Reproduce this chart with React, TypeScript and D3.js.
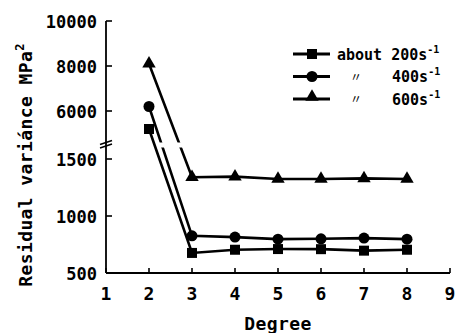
import React from "react";
import * as d3 from "d3";

const WIDTH = 455;
const HEIGHT = 333;

// data
const DEGREES = [2, 3, 4, 5, 6, 7, 8];
const RATE_200 = [5200, 676, 704, 710, 709, 696, 704];
const RATE_400 = [6200, 826, 815, 797, 800, 806, 797];
const RATE_600 = [8100, 1340, 1345, 1325, 1325, 1330, 1325];

const X_TICKS = [1, 2, 3, 4, 5, 6, 7, 8, 9];
const Y_TICKS_LOW = [500, 1000, 1500];
const Y_TICKS_HIGH = [6000, 8000, 10000];

const SERIES = [
  { name: "about 200s", ditto: false, symbol: d3.symbolSquare, size: 100, values: RATE_200 },
  { name: "400s", ditto: true, symbol: d3.symbolCircle, size: 95, values: RATE_400 },
  { name: "600s", ditto: true, symbol: d3.symbolTriangle, size: 78, values: RATE_600 },
];

const MONO = "'DejaVu Sans Mono', monospace";

const x = d3.scaleLinear().domain([1, 9]).range([106, 450]);
const yLow = d3.scaleLinear().domain([500, 1500]).range([273, 159]);
const yHigh = d3.scaleLinear().domain([6000, 10000]).range([111, 21]);
const y = (v: number) => (v > 3000 ? yHigh(v) : yLow(v));

const AXIS_X = x(1);
const AXIS_Y = yLow(500);
const BREAK_Y = 145;

export default function App() {
  const line = d3
    .line<[number, number]>()
    .x((d) => x(d[0]))
    .y((d) => y(d[1]));

  return (
    <div style={{ position: "absolute", left: 0, top: 0, width: WIDTH, height: HEIGHT, background: "#fff" }}>
      <svg width={WIDTH} height={HEIGHT} viewBox={`0 0 ${WIDTH} ${HEIGHT}`}>
        <rect width={WIDTH} height={HEIGHT} fill="#fff" />

        {/* data lines */}
        {SERIES.map((s) => (
          <path
            key={s.name + "-line"}
            d={line(DEGREES.map((d, i) => [d, s.values[i]]) as [number, number][]) || ""}
            fill="none"
            stroke="#000"
            strokeWidth={2.6}
          />
        ))}

        {/* gap where lines cross the axis break */}
        <rect x={x(2) + 8} y={BREAK_Y - 2.5} width={x(3) - x(2) - 10} height={5} fill="#fff" />

        {/* markers */}
        {SERIES.map((s) =>
          DEGREES.map((d, i) => (
            <path
              key={s.name + d}
              d={d3.symbol().type(s.symbol).size(s.size)() || ""}
              transform={`translate(${x(d)},${y(s.values[i])})`}
              fill="#000"
            />
          ))
        )}

        {/* axes */}
        <line x1={AXIS_X} x2={AXIS_X} y1={yHigh(10000)} y2={AXIS_Y} stroke="#000" strokeWidth={1.8} />
        <line x1={AXIS_X} x2={x(9)} y1={AXIS_Y} y2={AXIS_Y} stroke="#000" strokeWidth={1.8} />

        {/* axis break marks */}
        <line x1={AXIS_X - 6} x2={AXIS_X + 6} y1={BREAK_Y - 0.5} y2={BREAK_Y - 4.5} stroke="#000" strokeWidth={1.6} />
        <line x1={AXIS_X - 6} x2={AXIS_X + 6} y1={BREAK_Y + 3} y2={BREAK_Y - 1} stroke="#000" strokeWidth={1.6} />

        {[...Y_TICKS_HIGH.map((t) => [t, yHigh(t)]), ...Y_TICKS_LOW.map((t) => [t, yLow(t)])].map(([t, py]) => (
          <g key={"y" + t}>
            <line x1={AXIS_X} x2={AXIS_X + 6} y1={py} y2={py} stroke="#000" strokeWidth={1.6} />
            <text
              x={AXIS_X - 9}
              y={py}
              dy="0.4em"
              textAnchor="end"
              fontFamily={MONO}
              fontWeight="bold"
              fontSize={17}
            >
              {t}
            </text>
          </g>
        ))}

        {X_TICKS.map((t) => (
          <g key={"x" + t}>
            <line x1={x(t)} x2={x(t)} y1={AXIS_Y} y2={AXIS_Y - 5} stroke="#000" strokeWidth={1.6} />
            <text x={x(t)} y={299.5} textAnchor="middle" fontFamily={MONO} fontWeight="bold" fontSize={18}>
              {t}
            </text>
          </g>
        ))}

        {/* axis titles */}
        <text
          x={(x(1) + x(9)) / 2}
          y={330}
          textAnchor="middle"
          fontFamily={MONO}
          fontWeight="bold"
          fontSize={18}
          letterSpacing={0.4}
        >
          Degree
        </text>
        <text
          transform={`translate(32, 165) rotate(-90)`}
          textAnchor="middle"
          fontFamily={MONO}
          fontWeight="bold"
          fontSize={18}
          letterSpacing={0.4}
        >
          Residual variánce MPa
          <tspan dy={-8} fontSize={12}>
            2
          </tspan>
        </text>

        {/* legend */}
        {SERIES.map((s, i) => {
          const ly = 54 + i * 22.5;
          return (
            <g key={s.name + "-legend"}>
              <line x1={293} x2={330} y1={ly} y2={ly} stroke="#000" strokeWidth={2.8} />
              <path
                d={d3.symbol().type(s.symbol).size(s.size)() || ""}
                transform={`translate(312,${s.symbol === d3.symbolTriangle ? ly - 2 : ly})`}
                fill="#000"
              />
              {s.ditto && (
                <text x={356} y={ly + 5} textAnchor="middle" fontFamily="'Noto Sans CJK JP', sans-serif" fontSize={12}>
                  〃
                </text>
              )}
              <text x={s.ditto ? 392 : 337} y={ly + 5.5} fontFamily={MONO} fontWeight="bold" fontSize={15}>
                {s.name}
                <tspan dy={-7} fontSize={10}>
                  -1
                </tspan>
              </text>
            </g>
          );
        })}
      </svg>
    </div>
  );
}
